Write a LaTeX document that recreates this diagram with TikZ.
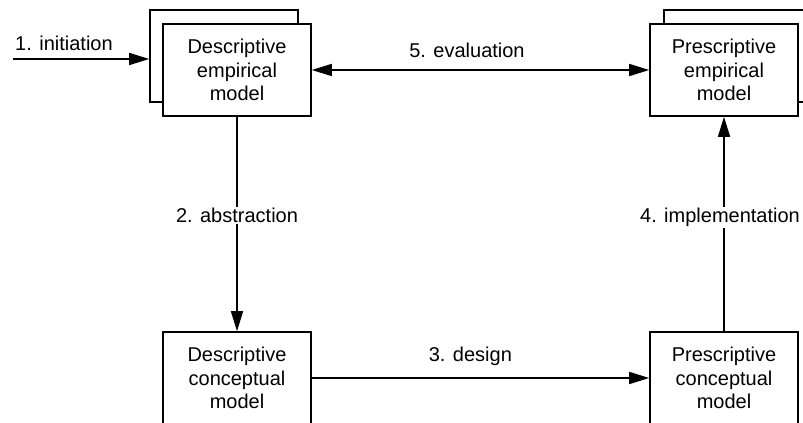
\documentclass[tikz,border=0pt]{standalone}
\usepackage{fontspec}
\setmainfont{Liberation Sans}
\usetikzlibrary{arrows.meta}

\begin{document}
\begin{tikzpicture}[x=0.75pt,y=-0.75pt]
        \tikzstyle{model}=[rectangle,draw,fill=white,line width=1.2pt,minimum width=111pt,minimum height=69pt,align=center,font=\fontsize{15}{17.4}\selectfont]
        \tikzstyle{lbl}=[font=\fontsize{15}{17.4}\selectfont]
        \tikzstyle{every path}=[line width=1.2pt,>={Triangle[length=15pt,width=9pt]}]
        \useasboundingbox (0,0) rectangle (803,423);
        % stacked boxes at the top
        \node[model] (demb) at (224,56) {};
        \node[model] (dem) at (237,70) {Descriptive\\empirical\\model};
        \node[model] (pemb) at (738,56) {};
        \node[model] (pem) at (724,70) {Prescriptive\\empirical\\model};
        % boxes at the bottom
        \node[model] (dcm) at (237,378) {Descriptive\\conceptual\\model};
        \node[model] (pcm) at (724,378) {Prescriptive\\conceptual\\model};
        \coordinate (start) at (13,59);
        \node[lbl,anchor=west] (init) at (10,43) {1. initiation};
        \draw[->] (start) -- (demb.west |- start);
        \draw[<->] (dem.east) -- node[lbl,pos=0.46,yshift=15pt] {5. evaluation} (pem.west);
        \draw[->] (dem.south) -- node[lbl,pos=0.46,fill=white,inner xsep=0pt,inner ysep=1pt] {2. abstraction} (dcm.north);
        \draw[->] (dcm.east) -- node[lbl,pos=0.47,yshift=16pt] {3. design} (pcm.west);
        \draw[->] (pcm.north) -- node[lbl,pos=0.53,xshift=-3pt,fill=white,inner xsep=0pt,inner ysep=1pt] {4. implementation} (pem.south);
\end{tikzpicture}
\end{document}
